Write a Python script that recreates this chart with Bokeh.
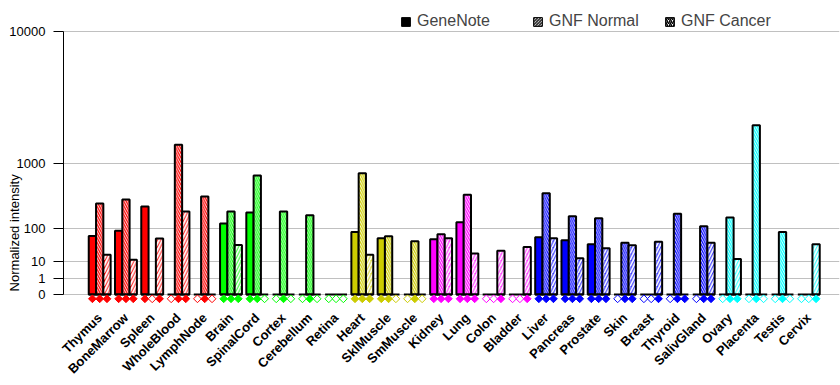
import numpy as np
from bokeh.plotting import figure
from bokeh.models import FixedTicker, Legend, LegendItem, Label, Range1d, ColumnDataSource
from bokeh.embed import file_html
from bokeh.resources import INLINE

# ---------------- data ----------------
categories = ["Thymus", "BoneMarrow", "Spleen", "WholeBlood", "LymphNode",
              "Brain", "SpinalCord", "Cortex", "Cerebellum", "Retina",
              "Heart", "SklMuscle", "SmMuscle",
              "Kidney", "Lung", "Colon", "Bladder",
              "Liver", "Pancreas", "Prostate", "Skin", "Breast", "Thyroid", "SalivGland",
              "Ovary", "Placenta", "Testis", "Cervix"]
genenote   = [68, 90, 263, 0, 0, 129, 208, 0, 0, 0, 84, 60, 0, 56, 137, 0, 0,
              63, 53, 41, 0, 0, 0, 0, 0, 0, 0, 0]
gnf_normal = [294, 339, 0, 1537, 376, 217, 717, 217, 186, 0, 764, 67, 50, 75, 398, 0, 0,
              420, 179, 164, 45, 0, 197, 113, 169, 2313, 84, 0]
gnf_cancer = [19, 12, 59, 217, 0, 39, 0, 0, 0, 0, 19, 0, 0, 60, 21, 26, 34,
              60, 14, 31, 38, 48, 0, 45, 13, 0, 0, 41]
call_genenote = [1, 1, 1, 0, 0, 1, 1, 0, 0, 0, 1, 1, 0, 1, 1, 0, 0,
                 1, 1, 1, 0, 0, 0, 0, 0, 0, 0, 0]
call_normal   = [1, 1, 0, 1, 1, 1, 1, 1, 1, 0, 1, 1, 1, 1, 1, 0, 0,
                 1, 1, 1, 1, 0, 1, 1, 1, 1, 1, 0]
call_cancer   = [1, 1, 1, 1, 0, 1, 0, 0, 0, 0, 1, 0, 0, 1, 1, 1, 1,
                 1, 1, 1, 1, 1, 1, 1, 1, 0, 0, 1]
group_sizes  = [5, 5, 3, 4, 7, 4]
group_colors = ["#FF0000", "#00FF00", "#CCCC00", "#FF00FF", "#0000FF", "#00FFFF"]
y_ticks = [0, 1, 10, 100, 1000, 10000]
series_names = ["GeneNote", "GNF Normal", "GNF Cancer"]


def tr(v):
    v = np.asarray(v, dtype=float)
    out = np.zeros_like(v)
    pos = v > 0
    out[pos] = 2.0 ** np.log10(v[pos])
    return out


colors = [c for c, n in zip(group_colors, group_sizes) for _ in range(n)]
idx = np.arange(len(categories))

# frame spans the whole width; the y axis is pinned inside it
AXIS_X = -1.378
X_END = 28.17
p = figure(width=840, height=385, output_backend="svg", toolbar_location=None,
           x_range=Range1d(-3.777, X_END), y_range=Range1d(-0.79, 17.399),
           min_border_left=0, min_border_right=1, min_border_top=8, min_border_bottom=78)
p.outline_line_color = None
p.background_fill_color = "white"

BW = 0.278
styles = [
    dict(),
    dict(hatch_pattern="\\", hatch_color="white", hatch_scale=4.5, hatch_weight=0.9),
    dict(hatch_pattern="/", hatch_color="white", hatch_scale=6.5, hatch_weight=2.0),
]
for j, (vals, st) in enumerate(zip([genenote, gnf_normal, gnf_cancer], styles)):
    v = np.asarray(vals, float)
    m = v > 0
    src = ColumnDataSource(dict(x=(idx + (j - 1) * BW)[m], top=tr(v)[m],
                                color=[c for c, k in zip(colors, m) if k]))
    p.vbar(x="x", top="top", bottom=0, width=BW, source=src, fill_color="color",
           line_color="black", line_width=2, **st)

# group baselines
p.segment(x0=idx - 1.5 * BW, x1=idx + 1.5 * BW, y0=0, y1=0, line_color="black", line_width=2)

# call markers
MARKER_Y = -0.26
for j, calls in enumerate([call_genenote, call_normal, call_cancer]):
    fills = [c if k else "white" for c, k in zip(colors, calls)]
    p.scatter(x=idx + (j - 1) * BW, y=[MARKER_Y] * len(idx), marker="square", angle=np.pi / 4,
              size=5.5, fill_color=fills, line_color=colors, line_width=1)

# legend proxies (no visible geometry)
nan_src = dict(x=[np.nan], top=[np.nan])
r1 = p.vbar(x="x", top="top", width=0.1, source=ColumnDataSource(nan_src),
            fill_color="black", line_color="black")
r2 = p.vbar(x="x", top="top", width=0.1, source=ColumnDataSource(nan_src),
            fill_color="white", line_color="black",
            hatch_pattern="\\", hatch_color="black", hatch_scale=3, hatch_weight=1)
r3 = p.vbar(x="x", top="top", width=0.1, source=ColumnDataSource(nan_src),
            fill_color="white", line_color="black",
            hatch_pattern="/", hatch_color="black", hatch_scale=4, hatch_weight=1.5)
legend = Legend(items=[LegendItem(label=n, renderers=[r]) for n, r in zip(series_names, [r1, r2, r3])],
                orientation="horizontal", location=(400, 277), padding=0, margin=0, spacing=0,
                glyph_width=11, glyph_height=11, label_standoff=6, label_width=115,
                label_text_font="Liberation Sans", label_text_font_size="16px",
                border_line_color=None, background_fill_alpha=0)
p.add_layout(legend)

# y axis
yt = tr(y_ticks).tolist()
p.yaxis.fixed_location = AXIS_X
p.yaxis.ticker = FixedTicker(ticks=yt)
p.yaxis.major_label_overrides = {t: str(v) for t, v in zip(yt, y_ticks)}
p.yaxis.bounds = (0, 16)
p.yaxis.axis_line_color = "black"
p.yaxis.major_tick_out = 10
p.yaxis.major_tick_in = 0
p.yaxis.minor_tick_line_color = None
p.yaxis.major_label_standoff = 8
p.yaxis.major_label_text_font = "Liberation Sans"
p.yaxis.major_label_text_font_size = "13px"
p.yaxis.major_label_text_color = "black"
p.ygrid.ticker = FixedTicker(ticks=yt)
p.ygrid.cross_bounds = (AXIS_X, X_END)
p.ygrid.grid_line_color = "#C0C0C0"
p.xgrid.grid_line_color = None

# x axis
p.xaxis.ticker = FixedTicker(ticks=idx.tolist())
p.xaxis.major_label_overrides = {int(i): c for i, c in zip(idx, categories)}
p.xaxis.major_label_orientation = np.pi / 4
p.xaxis.axis_line_color = None
p.xaxis.major_tick_line_color = None
p.xaxis.minor_tick_line_color = None
p.xaxis.major_label_standoff = 2
p.xaxis.major_label_text_font = "Liberation Sans"
p.xaxis.major_label_text_font_style = "bold"
p.xaxis.major_label_text_font_size = "13px"
p.xaxis.major_label_text_color = "black"

p.add_layout(Label(x=-3.244, y=3.75, text="Normalized intensity", angle=np.pi / 2,
                   text_align="center", text_baseline="middle",
                   text_font="Liberation Sans", text_font_size="13px", text_color="black"))

open("out.html", "w").write(file_html(p, INLINE))
